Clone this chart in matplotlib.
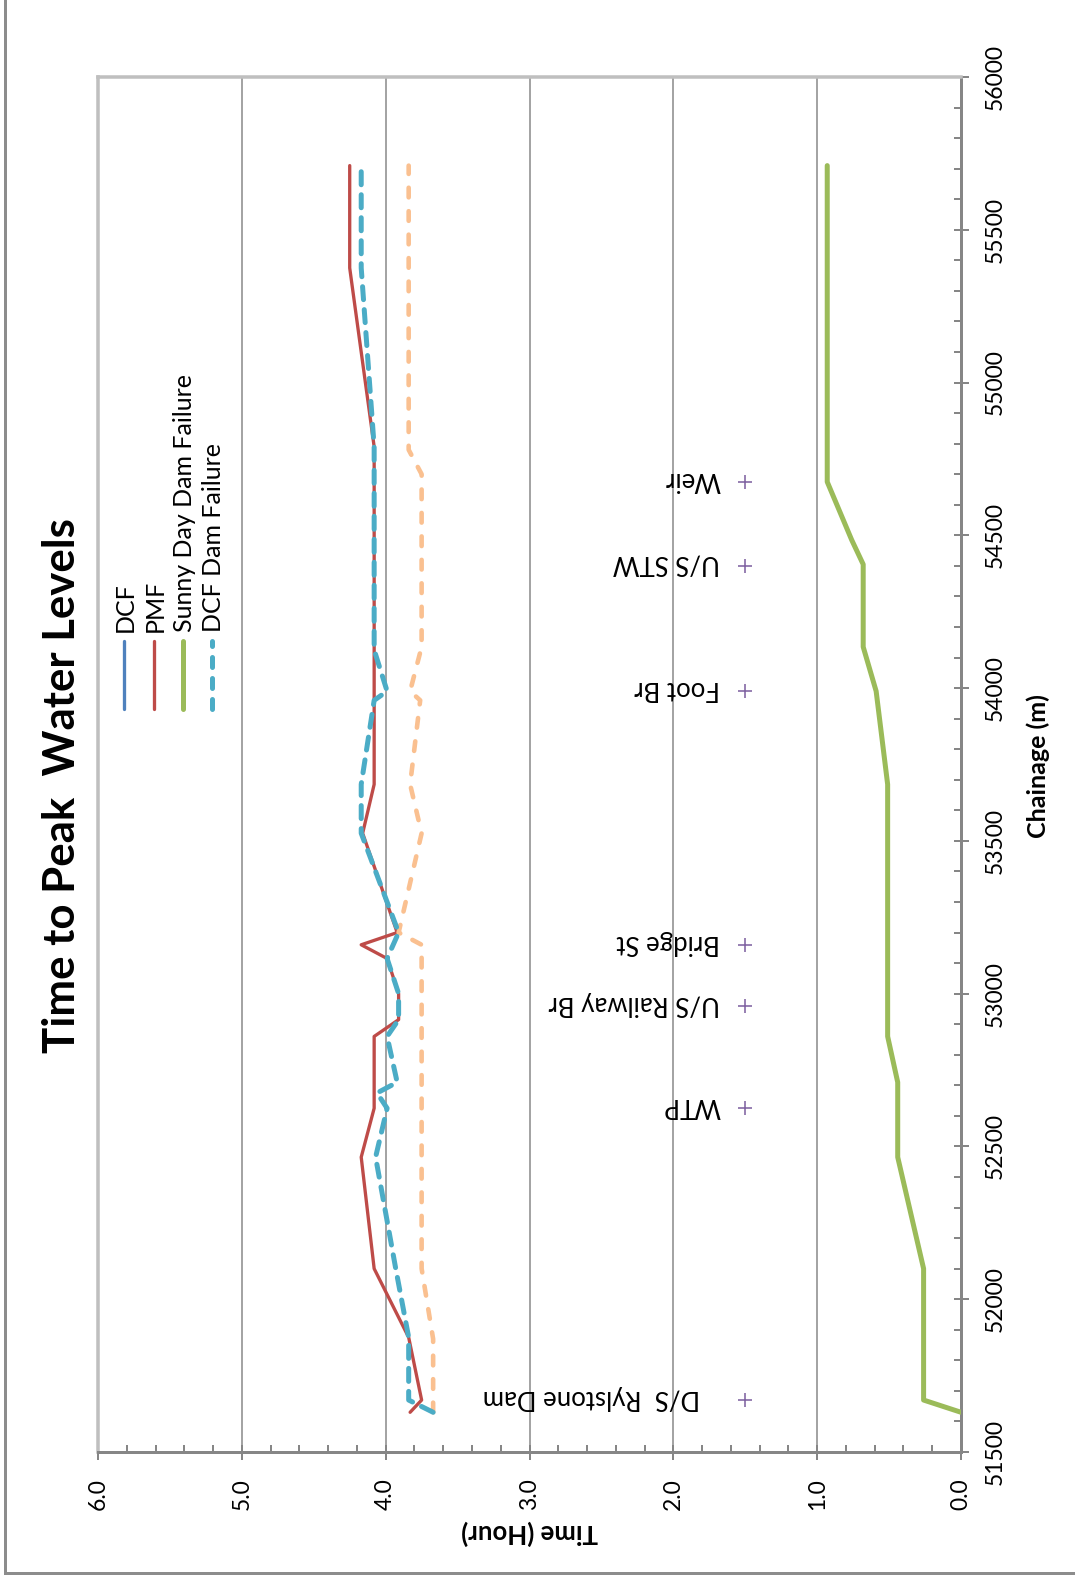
import matplotlib
matplotlib.use("Agg")
import matplotlib.pyplot as plt
from matplotlib.lines import Line2D
from matplotlib.ticker import MultipleLocator

plt.rcParams['font.family'] = ['Lato', 'DejaVu Sans']

# ---------------------------------------------------------------- data
# time to peak (hours) against chainage (m) for each scenario
dcf_chainage = []
dcf_time = []

pmf_chainage = [51630, 51670, 51875, 52100, 52465, 52625, 52860, 52915, 53000,
                53115, 53160, 53200, 53525, 53685, 54790, 55375, 55710]
pmf_time = [3.83, 3.75, 3.84, 4.08, 4.17, 4.08, 4.08, 3.91, 3.91,
            3.99, 4.17, 3.92, 4.16, 4.08, 4.08, 4.25, 4.25]

sunny_chainage = [51630, 51670, 52100, 52465, 52710, 52860, 53685, 53990,
                  54135, 54405, 54485, 54675, 55710]
sunny_time = [0.00, 0.26, 0.26, 0.44, 0.44, 0.51, 0.51, 0.59,
              0.68, 0.68, 0.76, 0.93, 0.93]

dcf_failure_chainage = [51630, 51670, 51875, 52100, 52465, 52625, 52675, 52710,
                        52860, 52915, 53000, 53115, 53200, 53525, 53685, 53960,
                        53990, 54125, 54790, 55375, 55710]
dcf_failure_time = [3.67, 3.84, 3.84, 3.93, 4.07, 3.99, 4.06, 3.92,
                    3.99, 3.91, 3.91, 3.99, 3.91, 4.17, 4.17, 4.08,
                    3.99, 4.08, 4.08, 4.17, 4.17]

unlabelled_chainage = [51630, 51870, 52100, 53160, 53200, 53525, 53685, 53960,
                       53990, 54135, 54700, 54780, 55710]
unlabelled_time = [3.67, 3.67, 3.75, 3.75, 3.91, 3.75, 3.83, 3.76,
                   3.83, 3.75, 3.75, 3.84, 3.84]

# reference sites along the river
site_names = ["   D/S  Rylstone Dam", "WTP", "U/S Railway Br", "Bridge St",
              "Foot Br", "U/S STW", "Weir"]
site_chainage = [51670, 52625, 52960, 53160, 53990, 54400, 54675]
site_time = [1.5, 1.5, 1.5, 1.5, 1.5, 1.5, 1.5]

time_ticks = [0.0, 1.0, 2.0, 3.0, 4.0, 5.0, 6.0]
time_tick_labels = ["0.0", "1.0", "2.0", "3.0", "4.0", "5.0", "6.0"]
chainage_ticks = [51500, 52000, 52500, 53000, 53500, 54000, 54500, 55000, 55500, 56000]
chainage_tick_labels = [str(v) for v in chainage_ticks]

legend_names = ["DCF", "PMF", "Sunny Day Dam Failure", "DCF Dam Failure"]

# ---------------------------------------------------------------- layout
W, H, DPI = 1075, 1585, 100
PT = DPI / 72.0  # pixels per point


def fx(px):
    return px / W


def fy(py):
    return 1 - py / H


fig = plt.figure(figsize=(W / DPI, H / DPI), dpi=DPI)
fig.patch.set_facecolor('white')

ax_l, ax_r, ax_t, ax_b = 98, 961, 77, 1452
ax = fig.add_axes([fx(ax_l), fy(ax_b), (ax_r - ax_l) / W, (ax_b - ax_t) / H])

RED = '#BE4B48'
GREEN = '#9BBB59'
CYAN = '#4BACC6'
BLUE = '#4F81BD'
PEACH = '#FAC090'
PURPLE = '#8064A2'
AXIS_GREY = '#868686'
LIGHT_GREY = '#BFBFBF'

# series (time runs across the page, chainage up the page)
ax.plot(dcf_time, dcf_chainage, color=BLUE, lw=3.3 / PT)
ax.plot(pmf_time, pmf_chainage, color=RED, lw=3.3 / PT,
        solid_capstyle='round', solid_joinstyle='round', zorder=3)
ax.plot(sunny_time, sunny_chainage, color=GREEN, lw=5 / PT,
        solid_capstyle='round', solid_joinstyle='round', zorder=3)
ax.plot(unlabelled_time, unlabelled_chainage, color=PEACH, lw=4.6 / PT,
        dashes=(2.1, 3.0), dash_capstyle='round', dash_joinstyle='round', zorder=3)
ax.plot(dcf_failure_time, dcf_failure_chainage, color=CYAN, lw=5 / PT,
        dashes=(2.6, 2.0), dash_capstyle='round', dash_joinstyle='round', zorder=4)

# site markers and their labels
ax.plot(site_time, site_chainage, ls='none', marker='+', ms=13 / PT,
        mew=1.6 / PT, color=PURPLE, zorder=5)
for name, t, ch in zip(site_names, site_time, site_chainage):
    ax.annotate(name, xy=(t, ch), xytext=(-25, 10), textcoords='offset pixels',
                rotation=180, rotation_mode='anchor', ha='left', va='baseline',
                fontsize=18.5, color='black')

# axes
ax.set_xlim(6, 0)
ax.set_ylim(51500, 56000)
ax.set_xticks(time_ticks, time_tick_labels)
ax.set_yticks(chainage_ticks, chainage_tick_labels)
ax.xaxis.set_minor_locator(MultipleLocator(0.2))
ax.yaxis.set_minor_locator(MultipleLocator(100))
ax.yaxis.tick_right()

ax.grid(axis='x', which='major', color=AXIS_GREY, lw=1.5 / PT)
ax.set_axisbelow(True)

ax.tick_params(axis='both', which='major', direction='inout', length=15 / PT,
               width=2 / PT, color=AXIS_GREY, labelsize=16.5, labelcolor='black')
ax.tick_params(axis='both', which='minor', direction='in', length=7 / PT,
               width=2 / PT, color=AXIS_GREY)
ax.tick_params(axis='x', which='major', pad=13.3, labelrotation=90)
ax.tick_params(axis='y', which='major', pad=11.9, labelrotation=90)
for lab in ax.get_yticklabels():
    lab.set_verticalalignment('center')

for side in ('left', 'top'):
    ax.spines[side].set_color(LIGHT_GREY)
    ax.spines[side].set_linewidth(3.5 / PT)
for side in ('right', 'bottom'):
    ax.spines[side].set_color(AXIS_GREY)
    ax.spines[side].set_linewidth(3 / PT)

# titles
fig.text(fx(75), fy(786), "Time to Peak  Water Levels", rotation=90,
         rotation_mode='anchor', ha='center', va='baseline',
         fontsize=31.5, fontweight='bold')
fig.text(fx(1046), fy(766), "Chainage (m)", rotation=90,
         rotation_mode='anchor', ha='center', va='baseline',
         fontsize=18, fontweight='bold')
fig.text(fx(530), fy(1524), "Time (Hour)", rotation=180,
         rotation_mode='anchor', ha='center', va='baseline',
         fontsize=18.5, fontweight='bold')

# legend, laid out as a row of upright entries
legend_styles = [
    dict(color=BLUE, lw=3.3 / PT, solid_capstyle='round'),
    dict(color=RED, lw=3.3 / PT, solid_capstyle='round'),
    dict(color=GREEN, lw=5 / PT, solid_capstyle='round'),
    dict(color=CYAN, lw=5 / PT, dashes=(2.0, 2.2), dash_capstyle='round'),
]
legend_x = [124, 154, 183, 212]
for name, style, x in zip(legend_names, legend_styles, legend_x):
    fig.add_artist(Line2D([fx(x), fx(x)], [fy(709), fy(641)],
                          transform=fig.transFigure, **style))
    fig.text(fx(x + 9), fy(632), name, rotation=90, rotation_mode='anchor',
             ha='left', va='baseline', fontsize=18)

# chart-area frame
frame_kw = dict(transform=fig.transFigure, color='#8C8C8C', lw=3 / PT,
                solid_capstyle='projecting')
fig.add_artist(Line2D([fx(5), fx(5)], [fy(-10), fy(1573)], **frame_kw))
fig.add_artist(Line2D([fx(5), fx(1090)], [fy(1573), fy(1573)], **frame_kw))

fig.savefig('out.png', dpi=DPI)
